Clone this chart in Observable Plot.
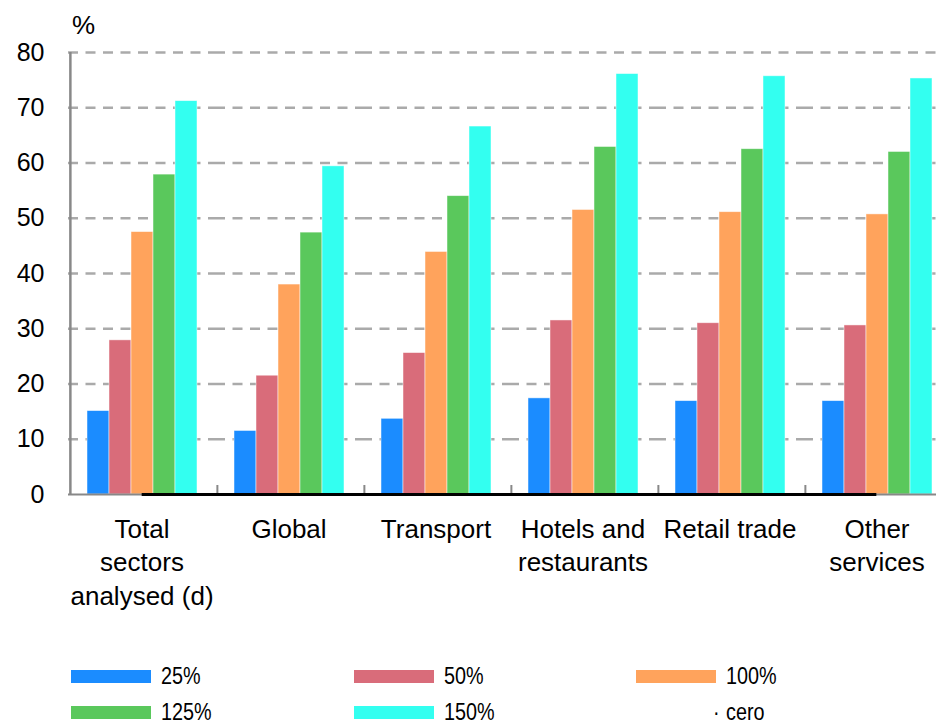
<!DOCTYPE html>
<html><head><meta charset="utf-8">
<script src="https://cdn.jsdelivr.net/npm/d3@7"></script>
<script src="https://cdn.jsdelivr.net/npm/@observablehq/plot@0.6"></script>
<style>
html,body{margin:0;padding:0;background:#fff;overflow:hidden}
#wrap{position:relative;width:936px;height:724px;font-family:"Liberation Sans",Arial,sans-serif;color:#000}
#wrap svg{display:block}
.pct{position:absolute;left:72px;top:12px;font-size:26px;line-height:26px}
.lg{position:absolute;font-family:"Liberation Sans",Arial,sans-serif;font-size:23px;line-height:23px;white-space:nowrap;transform:scaleX(0.86);transform-origin:left top}
.sw{position:absolute;width:80px;height:13px}
</style></head><body><div id="wrap"></div>
<script>
const categories = ["Total sectors analysed (d)", "Global", "Transport", "Hotels and restaurants", "Retail trade", "Other services"];
const categoryLines = ["Total\nsectors\nanalysed (d)", "Global", "Transport", "Hotels and\nrestaurants", "Retail trade", "Other\nservices"];
const series = ["25%", "50%", "100%", "125%", "150%"];
const v25  = [15.1, 11.5, 13.7, 17.4, 16.9, 16.9];
const v50  = [27.9, 21.5, 25.6, 31.5, 31.0, 30.6];
const v100 = [47.5, 38.0, 43.9, 51.5, 51.1, 50.7];
const v125 = [57.9, 47.4, 54.0, 62.9, 62.5, 62.0];
const v150 = [71.2, 59.4, 66.6, 76.1, 75.7, 75.3];
const cero = [0, 0, 0, 0, 0, 0];
const ceroLabel = "cero";
const yTicks = [0, 10, 20, 30, 40, 50, 60, 70, 80];
const colors = ["#1b8cff", "#d96c7a", "#ffa35c", "#5ac85c", "#33fff0"];

const values = [v25, v50, v100, v125, v150];
const rows = categories.flatMap((c, i) => series.map((s, j) => ({category: c, series: s, value: values[j][i]})));
const ceroRows = categories.map((c, i) => ({category: c, value: cero[i]}));

const W = 936, H = 640, mL = 67, mR = -15, mT = 52, mB = 146;
const facetW = (W - mL - mR) / categories.length;
const outerPad = 0.735;
const step = facetW / (series.length + 2 * outerPad);
const edgeDx = -(0.5 + outerPad) * step;
const pxPerUnit = (H - mT - mB) / (yTicks[yTicks.length - 1] - yTicks[0]);
const tickLen = 9 / pxPerUnit;

const chart = Plot.plot({
  width: W, height: H,
  marginLeft: mL, marginRight: mR, marginTop: mT, marginBottom: mB,
  style: {fontFamily: "Liberation Sans, Arial, sans-serif", background: "transparent", color: "#000", overflow: "hidden"},
  fx: {domain: categories, padding: 0, label: null},
  x: {domain: series, paddingInner: 0, paddingOuter: outerPad, axis: null},
  y: {domain: [yTicks[0], yTicks[yTicks.length - 1]]},
  color: {domain: series, range: colors},
  marks: [
    Plot.ruleY(yTicks.filter(t => t > 0), {stroke: "#aaa", strokeWidth: 2.5, strokeDasharray: "10,7.5"}),
    Plot.barY(rows, {fx: "category", x: "series", y: "value", fill: "series", stroke: "#fff", strokeOpacity: 0.6, strokeWidth: 0.8}),
    Plot.ruleY([0], {stroke: "#888", strokeWidth: 2}),
    Plot.ruleX(ceroRows.slice(0, 1), {fx: "category", x: () => series[0], dx: edgeDx, y1: yTicks[0], y2: yTicks[yTicks.length - 1], stroke: "#888", strokeWidth: 2.5}),
    Plot.ruleX(ceroRows.slice(1), {fx: "category", x: () => series[0], dx: edgeDx, y1: 0, y2: tickLen, stroke: "#888", strokeWidth: 2}),
    Plot.ruleY(ceroRows.slice(0, 1), {fx: "category", y: "value", insetLeft: facetW / 2, stroke: "#000", strokeWidth: 3}),
    Plot.ruleY(ceroRows.slice(1, -1), {fx: "category", y: "value", stroke: "#000", strokeWidth: 3}),
    Plot.ruleY(ceroRows.slice(-1), {fx: "category", y: "value", insetRight: facetW / 2, stroke: "#000", strokeWidth: 3}),
    Plot.axisY({ticks: yTicks, tickSize: 0, tickPadding: 24, fontSize: 25, label: null}),
    Plot.axisFx({anchor: "bottom", tickSize: 0, tickPadding: 20, fontSize: 26, lineHeight: 1.28, label: null,
      tickFormat: d => categoryLines[categories.indexOf(d)]})
  ]
});

const wrap = document.getElementById("wrap");
wrap.appendChild(chart);

const pct = document.createElement("div");
pct.className = "pct";
pct.textContent = "%";
wrap.appendChild(pct);

// Legend
const legendItems = series.map((s, j) => ({label: s, color: colors[j]})).concat([{label: ceroLabel, color: null}]);
const colX = [71, 354, 636];
const rowY = [670, 706];
legendItems.forEach((it, k) => {
  const cx = colX[k % 3], ry = rowY[Math.floor(k / 3)];
  if (it.color) {
    const sw = document.createElement("div");
    sw.className = "sw";
    sw.style.left = cx + "px";
    sw.style.top = ry + "px";
    sw.style.background = it.color;
    wrap.appendChild(sw);
  } else {
    const dot = document.createElement("div");
    dot.className = "lg";
    dot.style.left = (cx + 77) + "px";
    dot.style.top = (ry - 5) + "px";
    dot.textContent = "·";
    wrap.appendChild(dot);
  }
  const t = document.createElement("div");
  t.className = "lg";
  t.style.left = (cx + 90) + "px";
  t.style.top = (ry - 5) + "px";
  t.textContent = it.label;
  wrap.appendChild(t);
});
</script></body></html>
